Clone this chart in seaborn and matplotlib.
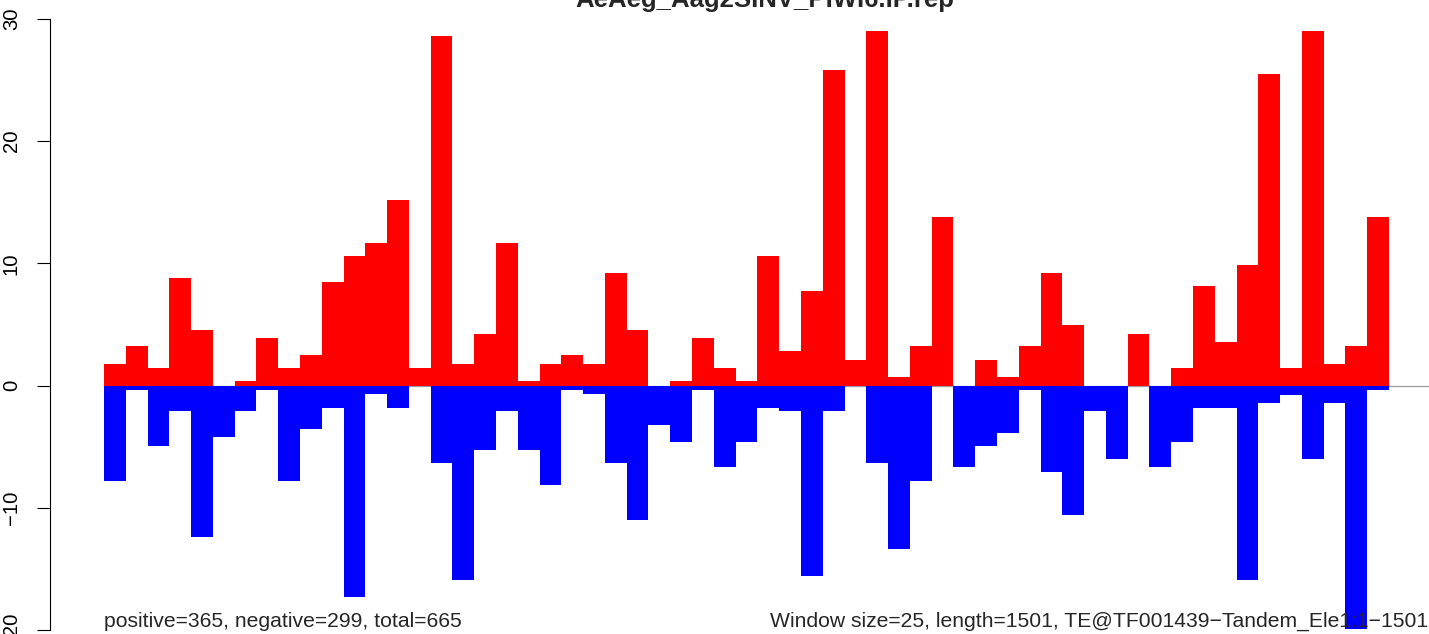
import matplotlib
matplotlib.use("Agg")
import matplotlib.pyplot as plt
import numpy as np
import pandas as pd
import seaborn as sns

# windows along the element (59 windows of 25 nt)
windows = list(range(59))

# reads on the positive strand per window (normalised)
positive = [1.8, 3.2, 1.45, 8.8, 4.55, 0, 0.4, 3.9, 1.45, 2.5,
            8.5, 10.6, 11.7, 15.2, 1.45, 28.6, 1.8, 4.2, 11.7, 0.4,
            1.8, 2.5, 1.8, 9.2, 4.55, 0, 0.4, 3.9, 1.45, 0.4,
            10.6, 2.85, 7.75, 25.8, 2.1, 29.0, 0.73, 3.2, 13.8, 0,
            2.1, 0.73, 3.2, 9.2, 5.0, 0, 0, 4.2, 0, 1.45,
            8.15, 3.6, 9.87, 25.5, 1.45, 29.0, 1.8, 3.2, 13.8]

# reads on the negative strand per window (plotted downwards)
negative = [7.8, 0.4, 4.95, 2.1, 12.4, 4.2, 2.1, 0.4, 7.8, 3.55,
            1.8, 17.3, 0.7, 1.8, 0, 6.35, 15.9, 5.3, 2.1, 5.3,
            8.1, 0.4, 0.7, 6.35, 11.0, 3.2, 4.6, 0.4, 6.7, 4.6,
            1.8, 2.1, 15.6, 2.1, 0, 6.35, 13.4, 7.8, 0, 6.7,
            4.95, 3.9, 0.4, 7.06, 10.6, 2.1, 6.0, 0, 6.7, 4.6,
            1.8, 1.8, 15.9, 1.45, 0.73, 6.0, 1.45, 19.9, 0.4]

y_ticks = [-20, -10, 0, 10, 20, 30]

title = "AeAeg_Aag2SINV_PIWI6.IP.rep"
left_note = "positive=365, negative=299, total=665"
right_note = "Window size=25, length=1501, TE@TF001439\u2212Tandem_Ele1:1\u22121501"

sns.set_theme(style="white")
plt.rcParams['font.family'] = ['Liberation Sans', 'DejaVu Sans']
plt.rcParams['axes.unicode_minus'] = True

df = pd.DataFrame({"window": windows,
                   "pos": positive,
                   "neg": [-v for v in negative]})

W, H = 1429, 634
fig = plt.figure(figsize=(W / 100, H / 100), dpi=100)
ax = fig.add_axes([50 / W, 0, 1 - 50 / W, 1])

# zero line behind the bars
ax.plot([-0.5, 62], [0, 0], color="#9a9a9a", lw=0.9, zorder=0.5)

sns.barplot(data=df, x="window", y="pos", color="red", saturation=1,
            width=1.0, linewidth=0, errorbar=None, ax=ax)
sns.barplot(data=df, x="window", y="neg", color="blue", saturation=1,
            width=1.0, linewidth=0, errorbar=None, ax=ax)

bw = (1389 - 104) / 59.0
ax.set_xlim(-0.5 - (104 - 50) / bw, 58.5 + (1429 - 1389) / bw)
px = 12.22
ax.set_ylim(-20 - 4 / px, 30 + 19 / px)

ax.set_xticks([])
ax.set_xlabel("")
ax.set_ylabel("")
ax.set_yticks(y_ticks)
ax.set_yticklabels([str(t).replace("-", "\u2212") for t in y_ticks],
                   rotation=90, va="center", fontsize=14.6)
ax.tick_params(axis="y", direction="out", length=9.4, width=0.8,
               pad=11.5, colors="black", left=True)
for side in ["top", "right", "bottom"]:
    ax.spines[side].set_visible(False)
ax.spines["left"].set_bounds(-20, 30)
ax.spines["left"].set_color("black")
ax.spines["left"].set_linewidth(0.8)
ax.patch.set_alpha(0)

fig.text(765 / W, 1 - 7.5 / H, title, ha="center", va="baseline",
         fontsize=18.5, fontweight="bold")
fig.text(104 / W, 1 - 627 / H, left_note, ha="left", va="baseline",
         fontsize=15.2, zorder=10)
fig.text(1428 / W, 1 - 627 / H, right_note, ha="right", va="baseline",
         fontsize=15.2, zorder=10)

fig.savefig("out.png", dpi=100)
